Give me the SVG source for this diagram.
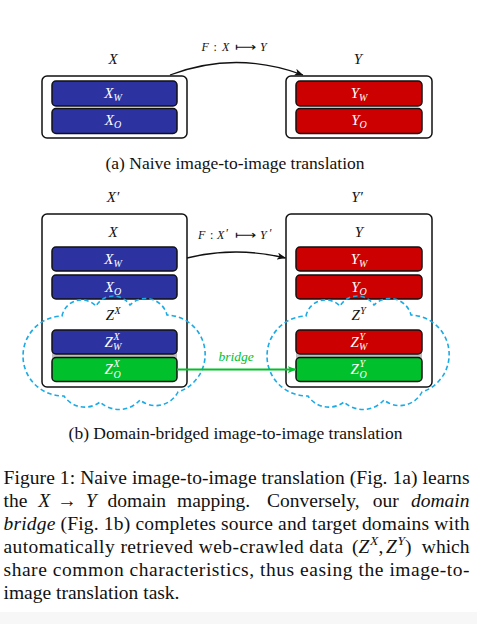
<svg xmlns="http://www.w3.org/2000/svg" width="477" height="624" viewBox="0 0 477 624">
<defs>
<style>
.outer{fill:#fff;stroke:#111;stroke-width:1.5}
.blue{fill:#2c33a0;stroke:#111;stroke-width:1.5}
.red{fill:#cc0000;stroke:#111;stroke-width:1.5}
.green{fill:#00c12b;stroke:#111;stroke-width:1.5}
.gap{fill:#bdbdbd}
.m{font-family:"Liberation Serif","Times New Roman",serif;font-style:italic}
.up{font-family:"Liberation Serif","Times New Roman",serif;font-style:normal}
.lbl{font-size:15px;fill:#111}
.w{fill:#fff;font-size:15px}
.s{font-size:10px}
.fl{font-size:12px;fill:#111}
.cap{font-family:"Liberation Serif","Times New Roman",serif;font-size:17.5px;fill:#111}
.p{font-family:"Liberation Serif","Times New Roman",serif;font-size:19.5px;fill:#111}
.cloud{fill:none;stroke:#1aaae6;stroke-width:1.6;stroke-dasharray:4.5 3}
.conn{fill:none;stroke:#111;stroke-width:1.3}
.bridge{fill:none;stroke:#00c12b;stroke-width:2}
</style>
<marker id="ah" viewBox="0 0 10 8" refX="9.5" refY="4" markerWidth="9" markerHeight="7" markerUnits="userSpaceOnUse" orient="auto"><path d="M0,0 L10,4 L0,8 L2.5,4 Z" fill="#111"/></marker>
<marker id="ahg" viewBox="0 0 10 8" refX="9.5" refY="4" markerWidth="9" markerHeight="7" markerUnits="userSpaceOnUse" orient="auto"><path d="M0,0 L10,4 L0,8 L2.5,4 Z" fill="#00c12b"/></marker>
</defs>
<rect x="0" y="0" width="477" height="624" fill="#fff"/>
<rect x="0" y="612" width="477" height="12" fill="#f7f7f7"/>

<!-- (a) -->
<g id="a-X">
<text class="m lbl" x="113" y="63.5" text-anchor="middle">X</text>
<rect class="outer" x="42" y="76" width="145" height="62" rx="5"/>
<rect class="blue" x="52" y="81" width="125" height="25" rx="4"/>
<rect class="blue" x="52" y="108.5" width="125" height="25" rx="4"/>
<text class="m w" x="113" y="97.5" text-anchor="middle">X<tspan class="s" dy="3">W</tspan></text>
<text class="m w" x="113" y="125" text-anchor="middle">X<tspan class="s" dy="3">O</tspan></text>
</g>
<g id="a-Y">
<text class="m lbl" x="358" y="63.5" text-anchor="middle">Y</text>
<rect class="outer" x="286" y="76" width="146" height="62" rx="5"/>
<rect class="red" x="296" y="81" width="126" height="25" rx="4"/>
<rect class="red" x="296" y="108.5" width="126" height="25" rx="4"/>
<text class="m w" x="359" y="97.5" text-anchor="middle">Y<tspan class="s" dy="3">W</tspan></text>
<text class="m w" x="359" y="125" text-anchor="middle">Y<tspan class="s" dy="3">O</tspan></text>
</g>
<text class="cap" x="235" y="169" text-anchor="middle">(a) Naive image-to-image translation</text>

<!-- (b) -->
<g id="b-Xp">
<text class="m lbl" x="113" y="201.5" text-anchor="middle">X′</text>
<rect class="outer" x="42" y="214" width="145" height="173" rx="5"/>
<text class="m lbl" x="113" y="236.5" text-anchor="middle">X</text>
<rect class="blue" x="52" y="247" width="125" height="24" rx="4"/>
<rect class="blue" x="52" y="275" width="125" height="24" rx="4"/>
<text class="m w" x="113" y="263.5" text-anchor="middle">X<tspan class="s" dy="3">W</tspan></text>
<text class="m w" x="113" y="291.5" text-anchor="middle">X<tspan class="s" dy="3">O</tspan></text>
<text class="m lbl" x="105.8" y="320">Z<tspan class="s" x="114.6" y="313.5">X</tspan></text>
<rect class="gap" x="52" y="352" width="125" height="7"/>
<rect class="blue" x="52" y="330" width="125" height="24" rx="4"/>
<rect class="green" x="52" y="357.5" width="125" height="24" rx="4"/>
<text class="m w" x="104.5" y="346.5">Z<tspan class="s" x="113.5" y="339.5">X</tspan><tspan class="s" x="113" y="350">W</tspan></text>
<text class="m w" x="104.5" y="374">Z<tspan class="s" x="113.5" y="367">X</tspan><tspan class="s" x="113.5" y="377.5">O</tspan></text>
</g>
<g id="b-Yp">
<text class="m lbl" x="357" y="201.5" text-anchor="middle">Y′</text>
<rect class="outer" x="286" y="214" width="146" height="173" rx="5"/>
<text class="m lbl" x="359" y="236.5" text-anchor="middle">Y</text>
<rect class="red" x="296" y="247" width="126" height="24" rx="4"/>
<rect class="red" x="296" y="275" width="126" height="24" rx="4"/>
<text class="m w" x="359" y="263.5" text-anchor="middle">Y<tspan class="s" dy="3">W</tspan></text>
<text class="m w" x="359" y="291.5" text-anchor="middle">Y<tspan class="s" dy="3">O</tspan></text>
<text class="m lbl" x="351.5" y="320">Z<tspan class="s" x="360.3" y="313.5">Y</tspan></text>
<rect class="gap" x="296" y="352" width="126" height="7"/>
<rect class="red" x="296" y="330" width="126" height="24" rx="4"/>
<rect class="green" x="296" y="357.5" width="126" height="24" rx="4"/>
<text class="m w" x="350.5" y="346.5">Z<tspan class="s" x="359.5" y="339.5">Y</tspan><tspan class="s" x="359" y="350">W</tspan></text>
<text class="m w" x="350.5" y="374">Z<tspan class="s" x="359.5" y="367">Y</tspan><tspan class="s" x="359.5" y="377.5">O</tspan></text>
</g>
<g id="clouds">
<path class="cloud" d="M62,316 A20,20 0 0 1 96,306 A20,20 0 0 1 130,305 A22,22 0 0 1 167,315 A39.5,39.5 0 0 1 178,392 A25,25 0 0 1 140,400 A28,28 0 0 1 100,402 A25,25 0 0 1 64,396 A40,40 0 0 1 62,316 Z"/>
<path class="cloud" transform="translate(244,0)" d="M62,316 A20,20 0 0 1 96,306 A20,20 0 0 1 130,305 A22,22 0 0 1 167,315 A39.5,39.5 0 0 1 178,392 A25,25 0 0 1 140,400 A28,28 0 0 1 100,402 A25,25 0 0 1 64,396 A40,40 0 0 1 62,316 Z"/>
</g>
<text class="cap" x="235.5" y="438.5" text-anchor="middle">(b) Domain-bridged image-to-image translation</text>

<g id="connectors">
<path class="conn" d="M170,75 Q236,50 303,75" marker-end="url(#ah)"/>
<text class="m fl" x="201.5" y="50.5">F</text>
<text class="up fl" x="213.5" y="50.5">:</text>
<text class="m fl" x="222" y="50.5">X</text>
<text class="up fl" x="235" y="50.5" textLength="21" lengthAdjust="spacingAndGlyphs">⟼</text>
<text class="m fl" x="260" y="50.5">Y</text>

<path class="conn" d="M187,258 Q236,246 285.5,258" marker-end="url(#ah)"/>
<text class="m fl" x="198" y="239">F</text>
<text class="up fl" x="210" y="239">:</text>
<text class="m fl" x="217" y="239">X</text>
<text class="up fl" x="226" y="237">′</text>
<text class="up fl" x="235" y="239" textLength="21" lengthAdjust="spacingAndGlyphs">⟼</text>
<text class="m fl" x="260" y="239">Y</text>
<text class="up fl" x="269.5" y="237">′</text>

<path class="bridge" d="M177,369.5 L296,369.5" marker-end="url(#ahg)"/>
<text class="m" x="236" y="360.5" text-anchor="middle" font-size="13.5" fill="#00c12b">bridge</text>
</g>

<!-- figure caption -->
<g id="caption">
<text class="p" x="3.5" y="483.5" textLength="466" lengthAdjust="spacing">Figure 1: Naive image-to-image translation (Fig. 1a) learns</text>
<text class="p" y="506.5"><tspan x="3.5">the</tspan><tspan class="m" x="38.3">X</tspan><tspan x="57.2">→</tspan><tspan class="m" x="85.7">Y</tspan><tspan x="107.5">domain</tspan><tspan x="177">mapping.</tspan><tspan x="267.1">Conversely,</tspan><tspan x="372.8">our</tspan><tspan class="m" x="411">domain</tspan></text>
<text class="p" x="3.5" y="529.5" textLength="466" lengthAdjust="spacing"><tspan class="m">bridge</tspan> (Fig. 1b) completes source and target domains with</text>
<text class="p" x="3.5" y="552.5" textLength="339.6" lengthAdjust="spacing">automatically retrieved web-crawled data</text>
<text class="p" y="552.5"><tspan x="352">(</tspan><tspan class="m" x="358.5">Z</tspan><tspan class="m" x="370" y="545" font-size="13.5">X</tspan><tspan x="378.5" y="552.5">,</tspan><tspan class="m" x="386">Z</tspan><tspan class="m" x="397.5" y="545" font-size="13.5">Y</tspan><tspan x="405" y="552.5">)</tspan></text>
<text class="p" x="421.8" y="552.5" textLength="47.7" lengthAdjust="spacing">which</text>
<text class="p" x="3.5" y="575.5" textLength="466" lengthAdjust="spacing">share common characteristics, thus easing the image-to-</text>
<text class="p" x="3.5" y="598.5">image translation task.</text>
</g>
</svg>
